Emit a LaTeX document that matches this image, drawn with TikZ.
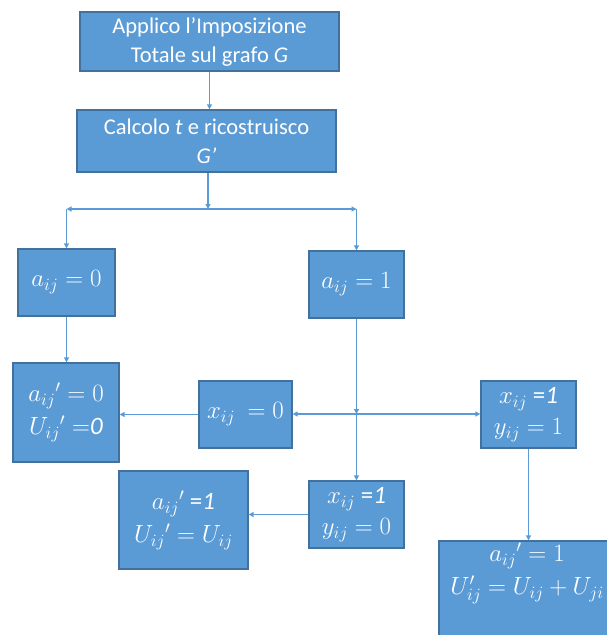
\documentclass[tikz,border=0pt]{standalone}
\usepackage{fontspec}
\setmainfont{Carlito}
\usetikzlibrary{arrows.meta}
\definecolor{boxfill}{HTML}{5B9BD5}
\definecolor{boxline}{HTML}{41719C}
\begin{document}
\begin{tikzpicture}[x=1pt,y=-1pt,
  box/.style={draw=boxline, fill=boxfill, line width=1.2pt, text=white, align=center, inner sep=0pt, font=\fontsize{25}{33}\selectfont},
  txtbox/.style={box, font=\fontsize{22.5}{29}\selectfont},
  boxtext/.style={text=white, align=center, inner sep=0pt, font=\fontsize{25}{33}\selectfont},
  arr/.style={draw=boxfill, line width=1.3pt, -{Triangle[length=5pt,width=5pt]}}]
\useasboundingbox (0,0) rectangle (607,635);
\clip (0,0) rectangle (607,635);
\node[txtbox, minimum width=259pt, minimum height=59pt] (b1) at (209.5,41.5) {Applico l’Imposizione\\Totale sul grafo \textit{G}};
\node[txtbox, minimum width=259pt, minimum height=62pt] (b2) at (206.5,141) {Calcolo \textit{t} e ricostruisco\\\textit{G’}};
\node[box, minimum width=97pt, minimum height=67pt] (b3) at (66.5,282.5) {$a_{ij} = 0$};
\node[box, minimum width=95pt, minimum height=67pt] (b4) at (356.5,284.5) {$a_{ij} = 1$};
\node[box, minimum width=106pt, minimum height=99pt] (b5) at (66,412.5) {$a_{ij}{}' = 0$\\$U_{ij}{}' =$\textit{0}};
\node[box, minimum width=93pt, minimum height=67pt] (b6) at (245.5,414.5) {$x_{ij}\ = 0$};
\node[box, minimum width=95pt, minimum height=67pt, font=\fontsize{25}{31}\selectfont] (b7) at (528.5,414.5) {$x_{ij}$ =\textit{1}\\$y_{ij} = 1$};
\node[box, minimum width=129pt, minimum height=98pt] (b8) at (183.5,520) {$a_{ij}{}'$ =\textit{1}\\$U_{ij}{}' = U_{ij}$};
\node[box, minimum width=95pt, minimum height=67pt, font=\fontsize{25}{31}\selectfont] (b10) at (356.5,514.5) {$x_{ij}$ =\textit{1}\\$y_{ij} = 0$};
\node[box, minimum width=186pt, minimum height=109pt] (b9) at (532,595.5) {};
\node[boxtext, anchor=north] (t9) at (527,543) {$a_{ij}{}' = 1$\\$U'_{ij} = U_{ij} + U_{ji}$};
% connectors
\draw[arr] (b1.south) -- (b1.south |- b2.north);
\coordinate (j1) at (208,209);
\coordinate (jl) at (b3.north |- j1);
\coordinate (jr) at (b4.north |- j1);
\draw[arr] (b2.south -| j1) -- (j1);
\draw[arr] (j1) -- (jl);
\draw[arr] (j1) -- (jr);
\draw[arr] (jl) -- (b3.north);
\draw[arr] (jr) -- (b4.north);
\draw[arr] (b3.south) -- (b3.south |- b5.north);
\coordinate (j2) at (356.5,414);
\draw[arr] (b4.south) -- (j2);
\draw[arr] (j2) -- (b10.north);
\draw[arr] (j2) -- (j2 -| b6.east);
\draw[arr] (j2) -- (j2 -| b7.west);
\draw[arr] (b6.west) -- (b6.west -| b5.east);
\draw[arr] (b10.west) -- (b10.west -| b8.east);
\draw[arr] (b7.south) -- (b7.south |- b9.north);
\end{tikzpicture}
\end{document}
